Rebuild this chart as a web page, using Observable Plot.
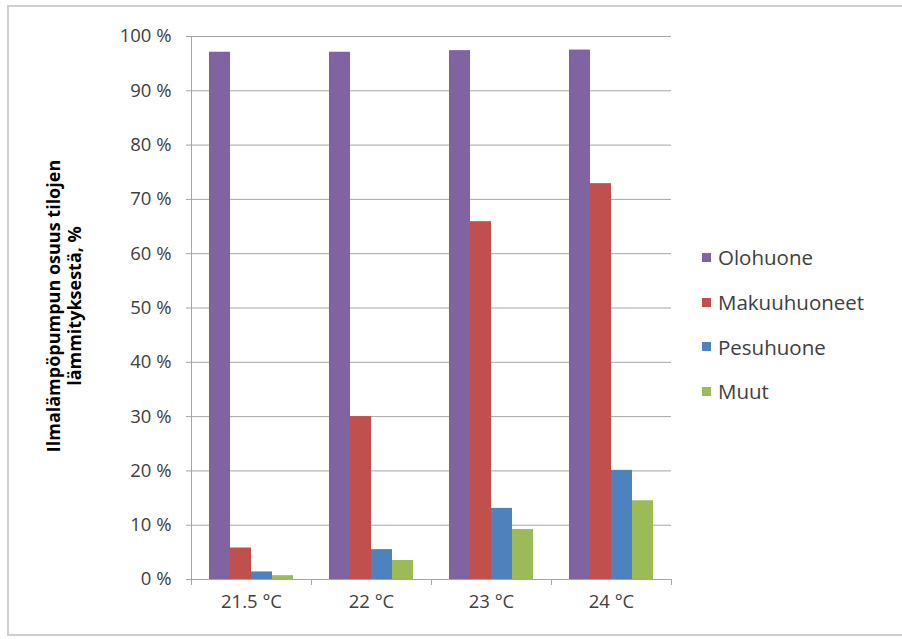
<!DOCTYPE html>
<html>
<head>
<meta charset="utf-8">
<script src="https://cdn.jsdelivr.net/npm/d3@7"></script>
<script src="https://cdn.jsdelivr.net/npm/@observablehq/plot@0.6"></script>
<style>
  html, body { margin: 0; padding: 0; background: #fff; }
  #wrap { position: relative; width: 902px; height: 639px; overflow: hidden; font-family: "Open Sans", sans-serif; }
  #frame { position: absolute; left: 7px; top: 5px; width: 900px; height: 631px; border: 2px solid #cfcfcf; box-sizing: border-box; }
  .layer { position: absolute; left: 0; top: 0; }
  #ytitle { position: absolute; left: 64px; top: 306px; width: 440px; transform: translate(-50%, -50%) rotate(-90deg);
            text-align: center; font-weight: bold; font-size: 18px; line-height: 21px; color: #000; }
  #legend { position: absolute; left: 702px; top: 235px; font-size: 20.5px; color: #404040; }
  .li { display: flex; align-items: center; height: 44.7px; }
  .sw { width: 9px; height: 9px; margin-right: 7px; }
</style>
</head>
<body>
<div id="wrap">
  <div id="frame"></div>
  <div id="back" class="layer"></div>
  <div id="bars" class="layer"></div>
  <div id="ytitle"></div>
  <div id="legend"></div>
</div>
<script>
const categories = ["21.5 °C", "22 °C", "23 °C", "24 °C"];
const seriesNames = ["Olohuone", "Makuuhuoneet", "Pesuhuone", "Muut"];
const olohuone = [97.1, 97.1, 97.4, 97.5];
const makuuhuoneet = [5.8, 30.0, 65.9, 72.9];
const pesuhuone = [1.4, 5.5, 13.1, 20.1];
const muut = [0.7, 3.5, 9.2, 14.5];
const yTicks = [0, 10, 20, 30, 40, 50, 60, 70, 80, 90, 100];
const colors = ["#8064A2", "#C0504D", "#4F81BD", "#9BBB59"];
const yTitleLines = ["Ilmalämpöpumpun osuus tilojen", "lämmityksestä, %"];

const seriesValues = [olohuone, makuuhuoneet, pesuhuone, muut];
const data = [];
categories.forEach((c, i) => {
  seriesNames.forEach((s, j) => {
    data.push({cat: c, series: s, value: seriesValues[j][i]});
  });
});

const W = 902, H = 639;
const margins = {marginLeft: 191, marginRight: 231, marginTop: 36, marginBottom: 60};
const bandOpts = {domain: categories, paddingInner: 0.283, paddingOuter: 0.1415};
const xs = Plot.scale({x: {type: "band", ...bandOpts, range: [margins.marginLeft, W - margins.marginRight]}});
const half = xs.step / 2;
const axisColor = "#a6a6a6";

// background: grid, axes, labels
const back = Plot.plot({
  width: W, height: H, ...margins,
  style: {fontFamily: "Open Sans, sans-serif", fontSize: "18.5px", color: "#404040", background: "transparent"},
  x: {...bandOpts, label: null},
  y: {domain: [0, 100], label: null},
  marks: [
    Plot.gridY(yTicks, {stroke: axisColor, strokeOpacity: 1}),
    Plot.frame({anchor: "left", stroke: axisColor}),
    Plot.ruleY([0], {stroke: axisColor}),
    Plot.ruleX(categories, {x: d => d, dx: -half, y1: 0, y2: 0, insetBottom: -6, stroke: axisColor}),
    Plot.ruleX(categories.slice(-1), {x: d => d, dx: half, y1: 0, y2: 0, insetBottom: -6, stroke: axisColor}),
    Plot.axisY(yTicks, {tickFormat: d => d + " %", tickSize: 5, tickPadding: 15, stroke: axisColor, fontSize: 18.5, fill: "#404040"}),
    Plot.axisX({label: null, tickSize: 0, tickPadding: 15, fontSize: 18.5, fill: "#404040"})
  ]
});
document.getElementById("back").appendChild(back);

// foreground: grouped bars
const bars = Plot.plot({
  width: W, height: H, ...margins,
  style: {background: "transparent"},
  fx: {...bandOpts, label: null, axis: null},
  x: {domain: seriesNames, padding: 0, axis: null},
  y: {domain: [0, 100], axis: null},
  color: {domain: seriesNames, range: colors},
  marks: [
    Plot.barY(data, {fx: "cat", x: "series", y: "value", fill: "series"})
  ]
});
document.getElementById("bars").appendChild(bars);

document.getElementById("ytitle").innerHTML = yTitleLines.join("<br>");
const legend = document.getElementById("legend");
seriesNames.forEach((s, j) => {
  const row = document.createElement("div");
  row.className = "li";
  row.innerHTML = `<span class="sw" style="background:${colors[j]}"></span><span>${s}</span>`;
  legend.appendChild(row);
});
</script>
</body>
</html>
